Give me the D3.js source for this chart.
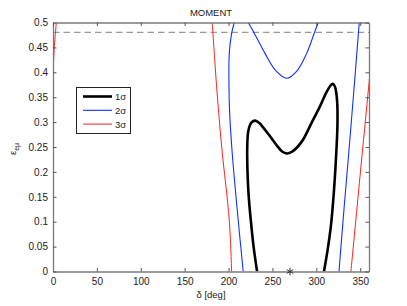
<!DOCTYPE html>
<html>
<head>
<meta charset="utf-8">
<script src="https://cdn.jsdelivr.net/npm/d3@7"></script>
<style>
  body { margin: 0; background: #fff; }
  text { font-family: "Liberation Sans", Arial, sans-serif; fill: #222; }
</style>
</head>
<body>
<script>
// contour lines, [delta in deg, eps_emu]
const sigma1 = [
  [232.5, 0], [228.5, 0.05], [225.5, 0.1], [223, 0.15], [221.6, 0.2], [221.3, 0.25],
  [222.6, 0.283], [226, 0.299], [230.5, 0.303], [235, 0.298], [240, 0.288],
  [247, 0.272], [255, 0.253], [261, 0.241], [266.5, 0.237], [272, 0.24],
  [279, 0.251], [285, 0.265], [295, 0.3], [304, 0.331], [311, 0.358],
  [316, 0.373], [318.5, 0.377], [321, 0.372], [323, 0.355], [324, 0.33],
  [324, 0.29], [323.1, 0.251], [321.5, 0.2], [319.3, 0.144], [316.5, 0.09],
  [313, 0.045], [308.7, 0]
];
const sigma2Left = [
  [216.7, 0], [211, 0.103], [204.2, 0.237], [201.2, 0.32], [200.5, 0.371],
  [200.8, 0.438], [203.5, 0.478], [206.5, 0.5]
];
const sigma2Top = [
  [222.4, 0.5], [228.1, 0.4825], [241.5, 0.438], [253, 0.405], [266.2, 0.388],
  [278, 0.403], [289, 0.438], [298.4, 0.4825], [302.2, 0.5]
];
const sigma2Right = [
  [325.8, 0], [331.5, 0.125], [337.5, 0.25], [343.3, 0.375], [348.9, 0.5]
];
const sigma3Left = [[0, 0.398], [1.5, 0.45], [3.8, 0.5]];
const sigma3Mid = [
  [203.5, 0], [200.8, 0.103], [192.2, 0.25], [186.4, 0.371], [181.4, 0.5]
];
const sigma3Right = [[339.4, 0], [349.7, 0.19], [360, 0.378], [366, 0.49]];

const bestFit = [270, 0];
const refLevel = 0.48;

const xTicks = [0, 50, 100, 150, 200, 250, 300, 350];
const yTicks = [0, 0.05, 0.1, 0.15, 0.2, 0.25, 0.3, 0.35, 0.4, 0.45, 0.5];
const legendLabels = ["1σ", "2σ", "3σ"];

const w = 407;
const h = 306;
const m = { left: 53, right: 38, top: 22.5, bottom: 34.5 };

const xScale = d3.scaleLinear().domain([0, 360]).range([m.left, w - m.right]);
const yScale = d3.scaleLinear().domain([0, 0.5]).range([h - m.bottom, m.top]);

const svg = d3.select("body").append("svg").attr("width", w).attr("height", h);

svg.append("clipPath").attr("id", "clip")
  .append("rect")
  .attr("x", m.left).attr("y", m.top)
  .attr("width", w - m.left - m.right).attr("height", h - m.top - m.bottom);

const line = d3.line()
  .x((d) => xScale(d[0]))
  .y((d) => yScale(d[1]))
  .curve(d3.curveCatmullRom);

const plot = svg.append("g").attr("clip-path", "url(#clip)");

plot.append("line")
  .attr("x1", xScale(0)).attr("x2", xScale(360))
  .attr("y1", yScale(refLevel)).attr("y2", yScale(refLevel))
  .attr("stroke", "#999").attr("stroke-width", 1.3)
  .attr("stroke-dasharray", "6.5,4");

const curves = [
  { d: sigma3Left, c: "#ff2020", sw: 1 },
  { d: sigma3Mid, c: "#ff2020", sw: 1 },
  { d: sigma3Right, c: "#ff2020", sw: 1 },
  { d: sigma2Left, c: "#1030ff", sw: 1.1 },
  { d: sigma2Top, c: "#1030ff", sw: 1.1 },
  { d: sigma2Right, c: "#1030ff", sw: 1.1 },
  { d: sigma1, c: "#000", sw: 2.6 }
];

plot.selectAll("path.curve")
  .data(curves)
  .enter()
  .append("path")
  .attr("class", "curve")
  .attr("d", (d) => line(d.d))
  .attr("fill", "none")
  .attr("stroke", (d) => d.c)
  .attr("stroke-width", (d) => d.sw);

// axes
const xAxis = d3.axisBottom(xScale).tickValues(xTicks).tickSizeInner(-3.5).tickSizeOuter(0).tickPadding(6);
const yAxis = d3.axisLeft(yScale).tickValues(yTicks).tickSizeInner(-3.5).tickSizeOuter(0).tickPadding(5)
  .tickFormat((d) => d3.format("~g")(d));

const gx = svg.append("g").attr("transform", `translate(0, ${h - m.bottom})`).call(xAxis);
const gy = svg.append("g").attr("transform", `translate(${m.left}, 0)`).call(yAxis);
const gxTop = svg.append("g").attr("transform", `translate(0, ${m.top})`)
  .call(d3.axisTop(xScale).tickValues(xTicks).tickSizeInner(-3.5).tickSizeOuter(0).tickFormat(""));
const gyRight = svg.append("g").attr("transform", `translate(${w - m.right}, 0)`)
  .call(d3.axisRight(yScale).tickValues(yTicks).tickSizeInner(-3.5).tickSizeOuter(0).tickFormat(""));

[gx, gy, gxTop, gyRight].forEach((g) => {
  g.select(".domain").attr("stroke", "#7a7a7a").attr("stroke-width", 1.3);
  g.selectAll(".tick line").attr("stroke", "#555");
  g.selectAll(".tick text").attr("font-size", 10).attr("fill", "#222")
    .attr("font-family", "'Liberation Sans', Arial, sans-serif");
});

// best-fit marker
svg.append("path")
  .attr("d", d3.symbol(d3.symbolAsterisk, 40)())
  .attr("transform", `translate(${xScale(bestFit[0])}, ${yScale(bestFit[1])})`)
  .attr("fill", "none")
  .attr("stroke", "#333")
  .attr("stroke-width", 1);

// title and labels
svg.append("text")
  .attr("x", (m.left + w - m.right) / 2).attr("y", 15.5)
  .attr("text-anchor", "middle").attr("font-size", 9.5)
  .text("MOMENT");

svg.append("text")
  .attr("x", (m.left + w - m.right) / 2).attr("y", 298)
  .attr("text-anchor", "middle").attr("font-size", 9.5)
  .text("δ [deg]");

const yl = svg.append("text")
  .attr("transform", `translate(16, 149) rotate(-90)`)
  .attr("text-anchor", "middle").attr("font-size", 9.5);
yl.append("tspan").text("ε");
yl.append("tspan").attr("dy", 3).attr("font-size", 7).text("eμ");

// legend
const lg = svg.append("g").attr("transform", "translate(76.5, 87.5)");
lg.append("rect").attr("width", 54).attr("height", 46)
  .attr("fill", "#fff").attr("stroke", "#222").attr("stroke-width", 1);
const lgStyles = [
  { c: "#000", sw: 2.6 },
  { c: "#1030ff", sw: 1.1 },
  { c: "#ff2020", sw: 1 }
];
legendLabels.forEach((lab, i) => {
  const yy = 9 + i * 13.8;
  lg.append("line").attr("x1", 6.5).attr("x2", 35.5).attr("y1", yy).attr("y2", yy)
    .attr("stroke", lgStyles[i].c).attr("stroke-width", lgStyles[i].sw);
  lg.append("text").attr("x", 38.5).attr("y", yy + 3.5).attr("font-size", 9.5).text(lab);
});
</script>
</body>
</html>
